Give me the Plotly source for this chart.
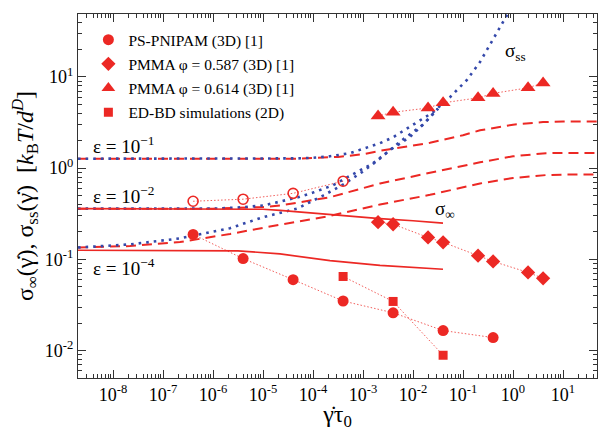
import numpy as np
import plotly.graph_objects as go

RED = "rgb(236,40,36)"
RED_LIGHT = "rgba(236,40,36,0.75)"
BLUE = "rgb(52,72,170)"
FONT = "Liberation Serif"

# ---------------- experimental / simulation data ----------------
pnipam_x = [4e-7, 4e-6, 4e-5, 4e-4, 4e-3, 4e-2, 4e-1]
pnipam_y = [0.188, 0.102, 0.060, 0.035, 0.026, 0.0166, 0.0139]

pnipam_ss_x = [4e-7, 4e-6, 4e-5, 4e-4]
pnipam_ss_y = [0.434, 0.457, 0.53, 0.72]

pmma587_x = [2e-3, 4e-3, 2e-2, 4e-2, 2e-1, 4e-1, 2.0, 4.0]
pmma587_y = [0.256, 0.243, 0.174, 0.154, 0.110, 0.095, 0.072, 0.062]

pmma614_x = [2e-3, 4e-3, 2e-2, 4e-2, 2e-1, 4e-1, 2.0, 4.0]
pmma614_y = [3.73, 4.1, 4.57, 5.2, 5.9, 6.6, 7.6, 8.6]

edbd_x = [4e-4, 4e-3, 4e-2]
edbd_y = [0.065, 0.0346, 0.0089]

# ---------------- theory curves (log10 of shear rate) ----------------
ss1_lx = [-8.7, -5.0, -4.3, -4.0, -3.66, -3.26, -2.96, -2.66, -2.4, -2.12, -1.86, -1.6, -1.26, -0.92, -0.66, -0.12, 0.0]
ss1_y = [1.27, 1.27, 1.28, 1.30, 1.35, 1.46, 1.66, 1.88, 2.18, 2.7, 3.3, 4.1, 6.0, 9.3, 14.6, 49.0, 62.0]

ss2_lx = [-8.7, -6.0, -5.5, -5.0, -4.66, -4.3, -4.0, -3.6, -3.2, -2.8, -2.46, -2.06, -1.8, -1.5]
ss2_y = [0.36, 0.36, 0.37, 0.39, 0.43, 0.48, 0.54, 0.65, 0.86, 1.13, 1.58, 2.2, 3.0, 4.5]

ss4_lx = [-8.7, -7.66, -6.66, -5.66, -5.0, -4.32, -3.8, -3.4, -3.0, -2.68, -2.26, -1.8, -1.5]
ss4_y = [0.135, 0.146, 0.17, 0.22, 0.29, 0.36, 0.5, 0.66, 0.92, 1.25, 1.95, 3.0, 4.5]

dash1_lx = [-8.7, -4.3, -3.5, -3.0, -2.66, -2.0, -1.66, -1.0, -0.66, 0.0, 0.6, 1.0, 1.7]
dash1_y = [1.27, 1.27, 1.33, 1.42, 1.55, 1.78, 1.9, 2.3, 2.6, 3.0, 3.2, 3.25, 3.25]

dash2_lx = [-8.7, -6.0, -5.0, -4.66, -3.66, -2.66, -1.66, -0.66, 0.0, 0.66, 1.0, 1.7]
dash2_y = [0.36, 0.36, 0.375, 0.39, 0.48, 0.68, 0.89, 1.16, 1.35, 1.46, 1.47, 1.47]

dash4_lx = [-8.7, -7.66, -6.66, -5.66, -4.66, -3.66, -2.66, -1.66, -0.66, 0.0, 0.66, 1.0, 1.7]
dash4_y = [0.135, 0.14, 0.155, 0.19, 0.24, 0.30, 0.40, 0.51, 0.68, 0.78, 0.84, 0.85, 0.85]

inf2_lx = [-8.7, -6.0, -5.0, -4.66, -3.66, -2.66, -2.0, -1.4]
inf2_y = [0.36, 0.36, 0.355, 0.345, 0.31, 0.28, 0.265, 0.25]

inf4_lx = [-8.7, -6.0, -5.5, -4.66, -3.66, -2.66, -2.0, -1.4]
inf4_y = [0.126, 0.126, 0.124, 0.115, 0.097, 0.086, 0.081, 0.078]

x_tick_exp = [-8, -7, -6, -5, -4, -3, -2, -1, 0, 1]
y_tick_exp = [-2, -1, 0, 1]

legend_names = ["PS-PNIPAM (3D) [1]", "PMMA φ = 0.587 (3D) [1]",
                "PMMA φ = 0.614 (3D) [1]", "ED-BD simulations (2D)"]


def p10(a):
    return list(np.power(10.0, np.array(a)))


fig = go.Figure()

dash_line = dict(color=RED, width=2, dash="10px,6px")
dot_blue = dict(color=BLUE, width=2.6, dash="2.6px,5px")
solid_red = dict(color=RED, width=1.6)

for lx, y in [(dash1_lx, dash1_y), (dash2_lx, dash2_y), (dash4_lx, dash4_y)]:
    fig.add_trace(go.Scatter(x=p10(lx), y=y, mode="lines", line=dash_line, showlegend=False))
for lx, y in [(ss1_lx, ss1_y), (ss2_lx, ss2_y), (ss4_lx, ss4_y)]:
    fig.add_trace(go.Scatter(x=p10(lx), y=y, mode="lines", line=dot_blue, showlegend=False))
for lx, y in [(inf2_lx, inf2_y), (inf4_lx, inf4_y)]:
    fig.add_trace(go.Scatter(x=p10(lx), y=y, mode="lines", line=solid_red, showlegend=False))

conn = dict(color=RED_LIGHT, width=1, dash="1.5px,2px")

fig.add_trace(go.Scatter(x=pnipam_ss_x, y=pnipam_ss_y, mode="lines+markers", line=conn,
                         marker=dict(symbol="circle-open", size=10, color=RED, line=dict(width=1.6, color=RED)),
                         showlegend=False))
fig.add_trace(go.Scatter(x=pnipam_x, y=pnipam_y, mode="lines+markers", line=conn,
                         marker=dict(symbol="circle", size=11, color=RED), showlegend=False))
fig.add_trace(go.Scatter(x=pmma587_x, y=pmma587_y, mode="lines+markers", line=conn,
                         marker=dict(symbol="diamond", size=11, color=RED), showlegend=False))
fig.add_trace(go.Scatter(x=pmma614_x, y=pmma614_y, mode="lines+markers", line=conn,
                         marker=dict(symbol="triangle-up", size=13, color=RED), showlegend=False))
fig.add_trace(go.Scatter(x=edbd_x, y=edbd_y, mode="lines+markers", line=conn,
                         marker=dict(symbol="square", size=9, color=RED), showlegend=False))

# legend-only entries (marker only)
for name, sym, sz in zip(legend_names, ["circle", "diamond", "triangle-up", "square"], [11, 11, 12, 9]):
    fig.add_trace(go.Scatter(x=[None], y=[None], mode="markers", name=name, legendgroup=name,
                             marker=dict(symbol=sym, size=sz, color=RED)))

ann_font = dict(family=FONT, size=19, color="black")
annotations = [
    dict(x=-8.45, y=np.log10(1.27), text="ε = 10<sup>−1</sup>", xanchor="left", yanchor="bottom", yshift=0),
    dict(x=-8.45, y=np.log10(0.36), text="ε = 10<sup>−2</sup>", xanchor="left", yanchor="bottom", yshift=0),
    dict(x=-8.45, y=np.log10(0.126), text="ε = 10<sup>−4</sup>", xanchor="left", yanchor="top", yshift=-3),
    dict(x=-0.2, y=np.log10(19.0), text="σ<sub>ss</sub>", xanchor="left", yanchor="middle"),
    dict(x=-1.6, y=np.log10(0.35), text="σ<sub>∞</sub>", xanchor="left", yanchor="middle"),
]
for a in annotations:
    a.update(xref="x", yref="y", showarrow=False, font=ann_font)

axis_common = dict(
    type="log", showgrid=False, zeroline=False, showline=True, linecolor="#333", linewidth=1.3,
    mirror="allticks", ticks="inside", ticklen=8, tickwidth=1.2, tickcolor="#333",
    tickfont=dict(family=FONT, size=18, color="black"),
    minor=dict(ticks="inside", ticklen=4, tickwidth=1, tickcolor="#333", dtick="D1", showgrid=False),
    tickmode="array",
)

fig.update_layout(
    width=598, height=431,
    margin=dict(l=78, r=1, t=14, b=53),
    paper_bgcolor="white", plot_bgcolor="white",
    font=dict(family=FONT, color="black"),
    showlegend=True,
    legend=dict(x=0.02, y=0.975, xanchor="left", yanchor="top", bgcolor="rgba(0,0,0,0)",
                font=dict(family=FONT, size=15.5, color="black"), traceorder="grouped",
                tracegroupgap=1, itemwidth=30),
    annotations=annotations,
)
fig.update_xaxes(**axis_common, range=[-8.7, 1.68],
                 tickvals=p10(x_tick_exp),
                 ticktext=["10<sup>%d</sup>" % e for e in x_tick_exp],
                 title=dict(text="γ̇τ<sub>0</sub>", font=dict(family=FONT, size=24), standoff=2))
fig.update_yaxes(**axis_common, range=[-2.30, 1.69],
                 tickvals=p10(y_tick_exp),
                 ticktext=["10<sup>%d</sup>" % e for e in y_tick_exp],
                 title=dict(text="σ<sub>∞</sub>(γ̇), σ<sub>ss</sub>(γ̇)  [<i>k</i><sub>B</sub><i>T</i>/<i>d</i><sup><i>D</i></sup>]",
                            font=dict(family=FONT, size=24), standoff=4))

fig.write_html("out.html")
